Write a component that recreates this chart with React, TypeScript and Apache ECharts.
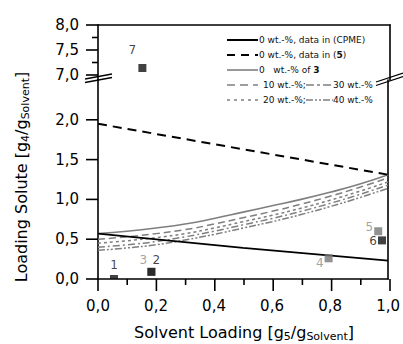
import React, { useEffect, useRef } from "react";
import * as echarts from "echarts";

// ---- data ----
const xTickValues = [0, 0.2, 0.4, 0.6, 0.8, 1.0];
const xMinorTickValues = [0.1, 0.3, 0.5, 0.7, 0.9];
const lowerYTickValues = [0, 0.5, 1.0, 1.5, 2.0];
const upperYTickValues = [7.0, 7.5, 8.0];
const upperYMinorTickValues = [7.25, 7.75];

const cpmeX = [0, 0.5, 1.0];
const cpmeY = [0.57, 0.39, 0.23];

const lit5X = [0, 1.0];
const lit5Y = [1.95, 1.31];

const curveX = [0, 0.1, 0.2, 0.3, 0.4, 0.5, 0.6, 0.7, 0.8, 0.9, 1.0];
const wt0of3 = [0.57, 0.6, 0.64, 0.69, 0.76, 0.84, 0.92, 1.0, 1.09, 1.19, 1.31];
const wt10 = [0.5, 0.53, 0.57, 0.62, 0.69, 0.77, 0.85, 0.94, 1.04, 1.15, 1.27];
const wt20 = [0.45, 0.48, 0.52, 0.57, 0.64, 0.72, 0.8, 0.89, 0.99, 1.1, 1.22];
const wt30 = [0.4, 0.43, 0.47, 0.53, 0.6, 0.68, 0.76, 0.85, 0.95, 1.06, 1.18];
const wt40 = [0.36, 0.39, 0.43, 0.49, 0.56, 0.64, 0.72, 0.81, 0.91, 1.02, 1.14];

const pointNames = ["1", "2", "3", "4", "5", "6", "7"];
const pointX = [0.055, 0.184, 0.184, 0.795, 0.966, 0.979, 0.152];
const pointY = [0.0, 0.09, 0.09, 0.26, 0.6, 0.485, 7.14];
const pointGray = [false, false, true, true, true, false, false];

const FONT = "DejaVu Sans";
const GRAY = "#7f7f7f";
const comma = (v: number) => v.toFixed(1).replace(".", ",");

const zip = (xs: number[], ys: number[]) => xs.map((x, i) => [x, ys[i]]);

// layout / axis extents (shared by the grids and the tick decoration)
const G_LEFT = 98;
const G_WIDTH = 292;
const UP_TOP = 25;
const UP_H = 55;
const LO_TOP = 80;
const LO_H = 199;
const X_MIN = 0;
const X_MAX = 1;
const UP_MIN = 6.9;
const UP_MAX = 8.0;
const LO_MIN = 0;
const LO_MAX = 2.5;

export default function App() {
  const ref = useRef<HTMLDivElement>(null);
  useEffect(() => {
    if (!ref.current) return;
    const chart = echarts.init(ref.current, null, { renderer: "svg" });

    const labelCfg: Record<string, any> = {
      "1": { position: "top", distance: 2, offset: [0, -2] },
      "2": { position: "top", distance: 2, offset: [5, 0] },
      "3": { position: "top", distance: 2, offset: [-8, 0] },
      "4": { position: "left", distance: 1, offset: [0, 5] },
      "5": { position: "left", distance: 1, offset: [0, -4] },
      "6": { position: "left", distance: 1, offset: [0, 1] },
      "7": { position: "top", distance: 2, offset: [-10, -6] },
    };
    const makeItem = (i: number) => {
      const name = pointNames[i];
      const color = pointGray[i] ? "#777777" : "#111111";
      const item: any = {
        name,
        value: [pointX[i], pointY[i]],
        itemStyle: { color },
        label: {
          show: true,
          formatter: name,
          color: pointGray[i] ? "#8a8a8a" : "#111111",
          fontFamily: FONT,
          fontSize: 12,
          ...labelCfg[name],
        },
      };
      if (name === "1") {
        item.symbolSize = [8, 4];
        item.symbolOffset = [0, -2];
      }
      return item;
    };
    const lowerPts = [2, 0, 1, 3, 4, 5].map(makeItem);
    const upperPts = [makeItem(6)];

    const lineCommon = {
      type: "line",
      xAxisIndex: 1,
      yAxisIndex: 2,
      showSymbol: false,
      symbol: "none",
      smooth: true,
      z: 2,
    };

    const legendText = (x: number, y: number, text: string) => ({
      type: "text",
      x,
      y,
      style: {
        text,
        fontFamily: FONT,
        fontSize: 9,
        fill: "#111",
        verticalAlign: "middle",
        align: "left",
        rich: { b: { fontFamily: FONT, fontSize: 9, fontWeight: "bold", fill: "#111" } },
      },
    });
    const legendLine = (x1: number, x2: number, y: number, stroke: string, lineDash: any, w = 1.6) => ({
      type: "line",
      shape: { x1, y1: y, x2, y2: y },
      style: { stroke, lineWidth: w, lineDash },
    });
    const seg = (x1: number, y1: number, x2: number, y2: number, w = 1.3) => ({
      type: "line",
      shape: { x1, y1, x2, y2 },
      style: { stroke: "#000", lineWidth: w },
      z: 10,
    });

    // tick decoration: same linear mapping as the value axes above
    const xPx = (v: number) => G_LEFT + ((v - X_MIN) / (X_MAX - X_MIN)) * G_WIDTH;
    const loPx = (v: number) => LO_TOP + LO_H - ((v - LO_MIN) / (LO_MAX - LO_MIN)) * LO_H;
    const upPx = (v: number) => UP_TOP + UP_H - ((v - UP_MIN) / (UP_MAX - UP_MIN)) * UP_H;
    const axisBottom = loPx(LO_MIN);
    const axisLeft = xPx(X_MIN);
    const tickGraphics: any[] = [
      ...xTickValues.map((v) => seg(xPx(v), axisBottom, xPx(v), axisBottom + 12, 1.6)),
      ...xMinorTickValues.map((v) => seg(xPx(v), axisBottom, xPx(v), axisBottom + 6, 1.6)),
      ...lowerYTickValues.map((v) => seg(axisLeft - 12, loPx(v), axisLeft, loPx(v), 1.6)),
      ...upperYTickValues.map((v) => seg(axisLeft - 12, upPx(v), axisLeft, upPx(v), 1.6)),
      ...upperYMinorTickValues.map((v) => seg(axisLeft - 6, upPx(v), axisLeft, upPx(v), 1.6)),
    ];

    const mkAxisLine = () => ({ show: true, onZero: false, lineStyle: { color: "#000", width: 1.6 } });
    const mkLabel = (extra: any) => ({
      show: true,
      formatter: (v: number) => comma(v),
      fontFamily: FONT,
      fontSize: 15,
      color: "#000",
      margin: 19,
      ...extra,
    });
    const hiddenAxis = (extra: any) => ({
      type: "value",
      axisLine: mkAxisLine(),
      axisTick: { show: false },
      axisLabel: { show: false },
      splitLine: { show: false },
      ...extra,
    });
    const titleRich = () => ({
      a: { fontFamily: FONT, fontSize: 16, fill: "#000" },
      s: { fontFamily: FONT, fontSize: 11, fill: "#000", padding: [9, 0, 0, 0] },
    });

    const option: any = {
      animation: false,
      grid: [
        { left: G_LEFT, top: UP_TOP, width: G_WIDTH, height: UP_H },
        { left: G_LEFT, top: LO_TOP, width: G_WIDTH, height: LO_H },
      ],
      xAxis: [
        hiddenAxis({ gridIndex: 0, min: X_MIN, max: X_MAX, position: "top" }),
        {
          gridIndex: 1,
          type: "value",
          min: X_MIN,
          max: X_MAX,
          interval: 0.2,
          position: "bottom",
          axisLine: mkAxisLine(),
          axisTick: { show: false },
          axisLabel: mkLabel({ customValues: xTickValues }),
          splitLine: { show: false },
        },
      ],
      yAxis: [
        {
          gridIndex: 0,
          type: "value",
          min: UP_MIN,
          max: UP_MAX,
          position: "left",
          axisLine: mkAxisLine(),
          axisTick: { show: false },
          axisLabel: mkLabel({ customValues: upperYTickValues }),
          splitLine: { show: false },
        },
        hiddenAxis({ gridIndex: 0, min: UP_MIN, max: UP_MAX, position: "right" }),
        {
          gridIndex: 1,
          type: "value",
          min: LO_MIN,
          max: LO_MAX,
          interval: 0.5,
          position: "left",
          axisLine: mkAxisLine(),
          axisTick: { show: false },
          axisLabel: mkLabel({ customValues: lowerYTickValues }),
          splitLine: { show: false },
        },
        hiddenAxis({ gridIndex: 1, min: LO_MIN, max: LO_MAX, position: "right" }),
      ],
      series: [
        { ...lineCommon, name: "40 wt.-%", data: zip(curveX, wt40), lineStyle: { color: GRAY, width: 1.5, type: [7, 2, 2, 2, 2, 2] } },
        { ...lineCommon, name: "30 wt.-%", data: zip(curveX, wt30), lineStyle: { color: GRAY, width: 1.5, type: [7, 3, 2, 3] } },
        { ...lineCommon, name: "20 wt.-%", data: zip(curveX, wt20), lineStyle: { color: GRAY, width: 1.5, type: [3, 3] } },
        { ...lineCommon, name: "10 wt.-%", data: zip(curveX, wt10), lineStyle: { color: GRAY, width: 1.5, type: [7, 4] } },
        { ...lineCommon, name: "0 wt.-% of 3", data: zip(curveX, wt0of3), lineStyle: { color: GRAY, width: 1.6, type: "solid" } },
        { ...lineCommon, smooth: false, name: "CPME", data: zip(cpmeX, cpmeY), lineStyle: { color: "#000", width: 1.8, type: "solid" } },
        { ...lineCommon, smooth: false, name: "lit5", data: zip(lit5X, lit5Y), lineStyle: { color: "#000", width: 2, type: [9, 6] } },
        { type: "scatter", xAxisIndex: 1, yAxisIndex: 2, symbol: "rect", symbolSize: 8, data: lowerPts, z: 5 },
        { type: "scatter", xAxisIndex: 0, yAxisIndex: 0, symbol: "rect", symbolSize: 8, data: upperPts, z: 5 },
      ],
      graphic: [
        ...tickGraphics,
        seg(85, 79, 112, 74),
        seg(85, 82.5, 112, 77.5),
        seg(376, 82, 403, 73),
        seg(376, 85.5, 403, 76.5),
        legendLine(227, 258, 40, "#000", null, 2),
        legendText(259, 40, "0 wt.-%, data in (CPME)"),
        legendLine(227, 258, 55, "#000", [8, 6], 2),
        legendText(259, 55, "0 wt.-%, data in ({b|5})"),
        legendLine(227, 258, 70, GRAY, null, 1.6),
        legendText(259, 70, "0   wt.-% of {b|3}"),
        legendLine(227, 258, 85, GRAY, [8, 5], 1.6),
        legendText(263, 85, "10 wt.-%;"),
        legendLine(306, 333, 85, GRAY, [8, 3, 3, 3], 1.6),
        legendText(333, 85, "30 wt.-%"),
        legendLine(227, 258, 100, GRAY, [3, 4], 1.6),
        legendText(263, 100, "20 wt.-%;"),
        legendLine(306, 333, 100, GRAY, [7, 2, 2, 2, 2, 2], 1.6),
        legendText(333, 100, "40 wt.-%"),
        {
          type: "text",
          x: 244,
          y: 332,
          style: {
            text: "{a|Solvent Loading [g}{s|5}{a|/g}{s|Solvent}{a|]}",
            align: "center",
            verticalAlign: "middle",
            rich: titleRich(),
          },
        },
        {
          type: "text",
          x: 21,
          y: 177,
          rotation: Math.PI / 2,
          style: {
            text: "{a|Loading Solute [g}{s|4}{a|/g}{s|Solvent}{a|]}",
            align: "center",
            verticalAlign: "middle",
            rich: titleRich(),
          },
        },
      ],
    };
    chart.setOption(option);
    return () => chart.dispose();
  }, []);
  return <div ref={ref} style={{ width: 403, height: 344, position: "absolute", left: 0, top: 0 }} />;
}
